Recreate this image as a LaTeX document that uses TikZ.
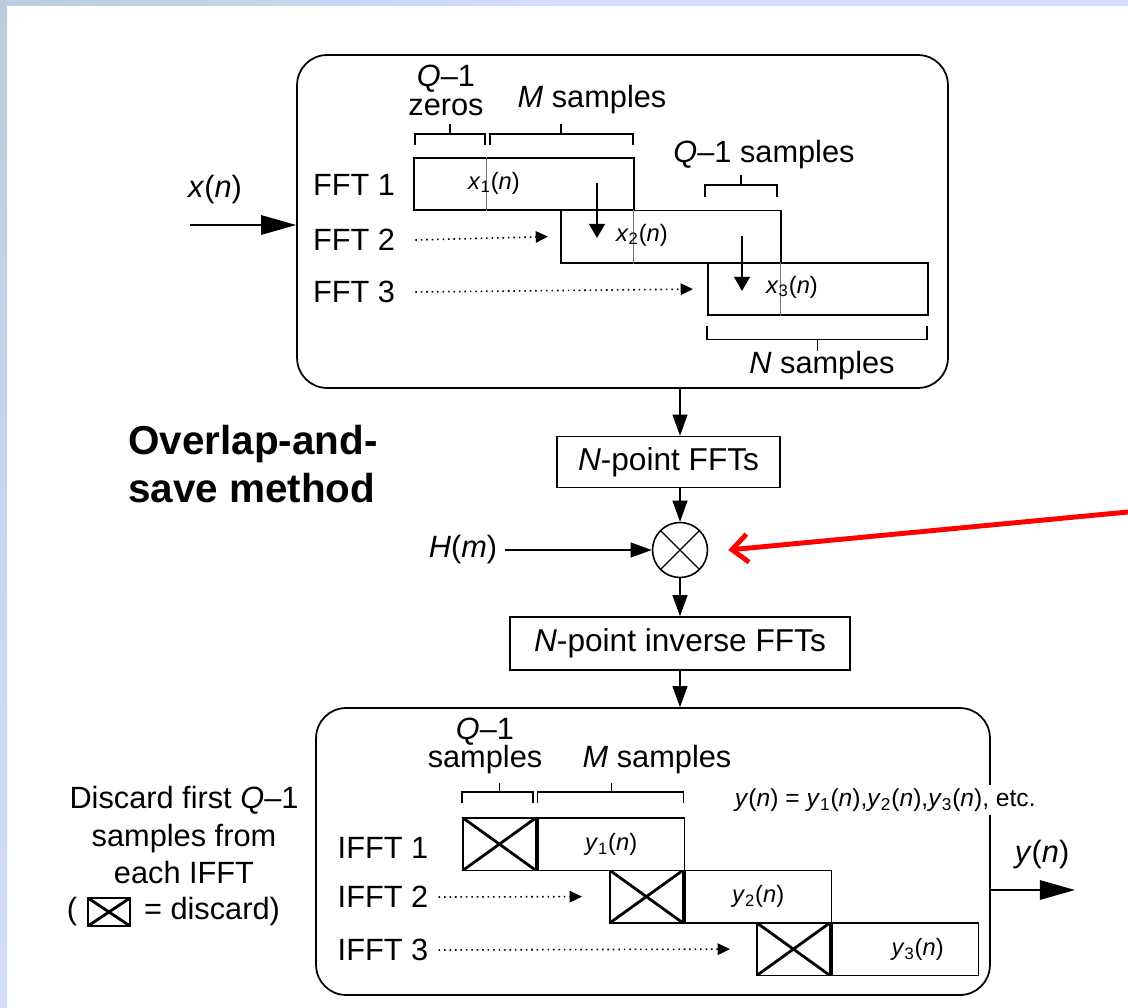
\documentclass[tikz,border=0pt]{standalone}
\usepackage{fontspec}
\setmainfont{Liberation Sans}
\usepackage{tikz}
\usetikzlibrary{positioning, arrows.meta, calc}

\definecolor{slideblue}{RGB}{210,222,252}
\definecolor{slidegrey}{RGB}{188,204,222}
\newcommand{\sig}[2]{\textit{#1}\textsubscript{#2}(\textit{n})}

\begin{document}
\begin{tikzpicture}[x=0.02cm, y=-0.02cm,
  txt/.style={font=\fontsize{17.5}{21.3}\selectfont, inner sep=0, align=center},
  sml/.style={font=\fontsize{13.5}{16}\selectfont, inner sep=0},
  panel/.style={draw, rounded corners=0.6cm, line width=1pt, inner sep=0},
  blk/.style={draw, line width=0.9pt, inner sep=0, minimum height=1.02cm, font=\fontsize{18}{21}\selectfont},
  seg/.style={draw, line width=1pt, inner sep=0, minimum height=1.05cm, anchor=north west},
  xseg/.style={seg, minimum width=1.46cm, path picture={
    \draw[line width=1.6pt] (path picture bounding box.north west) -- (path picture bounding box.south east)
      (path picture bounding box.south west) -- (path picture bounding box.north east);}},
  divider/.style={black!55, line width=0.5pt},
  brk/.style={line width=0.6pt},
  arr/.style={-{Triangle[length=12pt,width=8.5pt]}, line width=0.8pt},
  bigarr/.style={-{Triangle[length=20pt,width=11pt]}, line width=1.2pt},
  dotarr/.style={dash pattern=on 0.9pt off 2.2pt, line width=0.9pt, -{Triangle[length=7pt,width=6.5pt]}},
  downarr/.style={-{Triangle[length=8pt,width=9pt]}, line width=0.8pt}
]
  \shade[top color=slidegrey, bottom color=slideblue] (0,0) rectangle (7,1007);
  \shade[left color=slidegrey, right color=slideblue, middle color=slideblue] (0,0) rectangle (1128,6);
  \useasboundingbox (0,0) rectangle (1128,1007);

  \node[panel, minimum width=13.02cm, minimum height=6.66cm] (topbox) at (622.5,221.5) {};
  \node[seg, minimum width=4.4cm] (f1) at (413,157) {};
  \node[seg, minimum width=4.4cm] (f2) at (560,209.5) {};
  \node[seg, minimum width=4.4cm] (f3) at (707,262) {};
  \draw[divider] ($(f1.north west)+(73,0)$) -- ($(f1.south west)+(73,0)$);
  \draw[divider] ($(f2.north west)+(73,0)$) -- ($(f2.south west)+(73,0)$);
  \draw[divider] ($(f3.north west)+(73,0)$) -- ($(f3.south west)+(73,0)$);

  \node[sml] (x1) at (494,183) {\sig{x}{1}};
  \node[sml] (x2) at (642,235) {\sig{x}{2}};
  \node[sml] (x3) at (792,287) {\sig{x}{3}};
  \coordinate (ov1a) at (597,183);
  \coordinate (ov1b) at (597,238);
  \coordinate (ov2a) at (742,236);
  \coordinate (ov2b) at (742,291);
  \draw[downarr] (ov1a) -- (ov1b);
  \draw[downarr] (ov2a) -- (ov2b);

  \node[txt] (lab1) at (354,185) {FFT 1};
  \node[txt] (lab2) at (354,240) {FFT 2};
  \node[txt] (lab3) at (354,292) {FFT 3};
  \draw[dotarr] ([xshift=0.4cm]lab2.east) -- ([xshift=-0.24cm]f2.west);
  \draw[dotarr] ([xshift=0.4cm]lab3.east) -- ([xshift=-0.28cm]f3.west);

  \node[txt, font=\fontsize{17.5}{16.5}\selectfont] (qzeros) at (446,90) {\textit{Q}\textendash 1\\zeros};
  \node[txt] (msamp) at (592,100) {\textit{M} samples};
  \node[txt] (qsamp) at (764,155) {\textit{Q}\textendash 1 samples};
  \node[txt] (nsamp) at (822,366) {\textit{N} samples};
  \draw[brk] ($(f1.north west)+(2,-12)$) -- ++(0,-11) -- ++(70,0) -- ++(0,11);
  \draw[brk] ($(f1.north west)+(37,-23)$) -- ++(0,-10);
  \draw[brk] ($(f1.north west)+(77,-12)$) -- ++(0,-11) -- ++(143,0) -- ++(0,11);
  \draw[brk] ($(f1.north west)+(148,-23)$) -- ++(0,-10);
  \draw[brk] ($(f3.north west)+(-2,-65)$) -- ++(0,-12) -- ++(72,0) -- ++(0,12);
  \draw[brk] ($(f3.north west)+(34,-77)$) -- ++(0,-10);
  \draw[brk] ($(f3.south west)+(0,10)$) -- ++(0,13) -- ++(220,0) -- ++(0,-13);
  \draw[brk] ($(f3.south)+(0,23)$) -- ++(0,12);

  \node[txt] (xin) at (215,190) {\textit{x}(\textit{n})};
  \coordinate (xstart) at (190,225);
  \draw[bigarr] (xstart) -- (xstart -| topbox.west);

  \node[txt, font=\bfseries\fontsize{23}{27}\selectfont, align=left, anchor=west] (title) at (128,464) {Overlap-and-\\save method};

  \node[circle, draw, line width=0.9pt, minimum size=1.1cm, inner sep=0, path picture={
    \draw[line width=0.7pt] (path picture bounding box.north west) -- (path picture bounding box.south east)
      (path picture bounding box.south west) -- (path picture bounding box.north east);}] (mult) at (680,550) {};
  \node[blk, minimum width=4.46cm] (fftn) at (668.5,462) {\textit{N}-point FFTs};
  \node[blk, minimum width=6.8cm, minimum height=1.06cm] (ifftn) at (680,643.5) {\textit{N}-point inverse FFTs};
  \node[txt] (hm) at (463,550) {\textit{H}(\textit{m})};
  \draw[arr] (topbox.south -| mult) -- (fftn.north -| mult);
  \draw[arr] (fftn.south -| mult) -- (mult.north);
  \draw[arr] ([xshift=0.14cm]hm.east) -- (mult.west);
  \draw[arr] (mult.south) -- (ifftn.north -| mult);

  \coordinate (redstart) at (1128,512);
  \draw[red, line width=2.8pt, -{Straight Barb[length=9pt,width=16pt]}] (redstart) -- ([xshift=0.4cm]mult.east);

  \node[panel, minimum width=13.48cm, minimum height=5.74cm] (botbox) at (653,851.5) {};
  \draw[arr] (ifftn.south -| mult) -- (botbox.north -| mult);

  \node[xseg] (d1) at (462,817) {};
  \node[seg, minimum width=2.94cm, right=0pt of d1, font=\fontsize{13.5}{16}\selectfont] (y1) {\sig{y}{1}};
  \node[xseg] (d2) at (609,869.5) {};
  \node[seg, minimum width=2.94cm, right=0pt of d2, font=\fontsize{13.5}{16}\selectfont] (y2) {\sig{y}{2}};
  \node[xseg] (d3) at (756,922) {};
  \node[seg, minimum width=2.94cm, right=0pt of d3, font=\fontsize{13.5}{16}\selectfont] (y3) {\hspace*{0.5cm}\sig{y}{3}};

  \node[txt] (ilab1) at (383,848) {IFFT 1};
  \node[txt] (ilab2) at (383,897) {IFFT 2};
  \node[txt] (ilab3) at (383,950) {IFFT 3};
  \draw[dotarr] ([xshift=0.2cm]ilab2.east) -- ([xshift=-0.54cm]d2.west);
  \draw[dotarr] ([xshift=0.2cm]ilab3.east) -- ([xshift=-0.52cm]d3.west);

  \node[txt, font=\fontsize{17.5}{16}\selectfont] (qsamples) at (485,746) {\textit{Q}\textendash 1\\samples};
  \node[txt] (msamples) at (657,760) {\textit{M} samples};
  \draw[brk] ($(d1.north west)+(0,-14)$) -- ++(0,-11) -- ++(71,0) -- ++(0,11);
  \draw[brk] ($(d1.north)+(0,-25)$) -- ++(0,-9);
  \draw[brk] ($(y1.north west)+(1,-14)$) -- ++(0,-11) -- ++(146,0) -- ++(0,11);
  \draw[brk] ($(y1.north)+(0,-25)$) -- ++(0,-9);

  \node[fill=white, inner sep=2pt, anchor=west, font=\fontsize{14}{16}\selectfont] (yeq) at (731,800)
    {\textit{y}(\textit{n}) = \sig{y}{1},\sig{y}{2},\sig{y}{3}, etc.};

  \node[txt] (yout) at (1042,855) {\textit{y}(\textit{n})};
  \coordinate (yend) at (1075,890);
  \draw[bigarr] (yend -| botbox.east) -- (yend);

  \node[txt] (discardtxt) at (184,835) {Discard first \textit{Q}\textendash 1\\samples from\\each IFFT};
  \node[txt] (lpar) at (72,912) {(};
  \node[xseg, minimum width=0.84cm, minimum height=0.56cm, anchor=center] (legx) at (109,912) {};
  \node[txt] (legtxt) at (212,912) {= discard)};
\end{tikzpicture}
\end{document}
